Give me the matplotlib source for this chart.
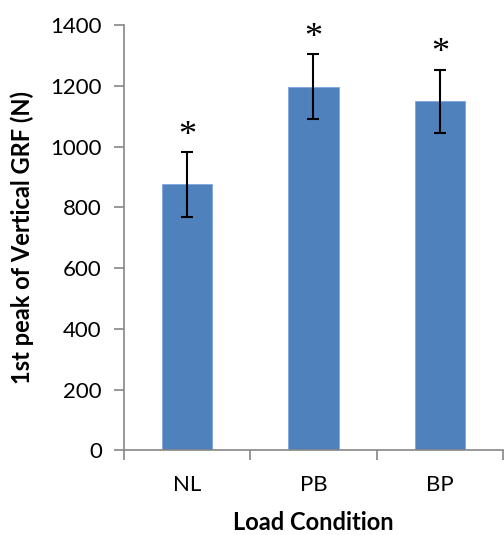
import matplotlib
matplotlib.use("Agg")
import matplotlib.pyplot as plt
import numpy as np

# Donnees
conditions = ["NL", "PB", "BP"]
moyennes   = [876, 1198, 1150]
erreurs    = [108, 107, 104]
etoiles_y  = [1062, 1382, 1333]

GRIS   = "#868686"
BLEU   = "#4F81BD"
POLICE = ["Lato", "DejaVu Sans"]

fig = plt.figure(figsize=(5.04, 5.35), dpi=100)
ax = fig.add_axes([0.246, 0.158, 0.752, 0.795])

x = np.arange(len(conditions))
ax.bar(x, moyennes, width=0.4, color=BLEU, edgecolor="#7EA6E0", linewidth=0.6, zorder=2)
ax.errorbar(x, moyennes, yerr=erreurs, fmt="none", ecolor="black",
            elinewidth=1.5, capsize=4.5, capthick=1.5, zorder=3)

# asterisques (decalage vertical car le glyphe est haut dans sa boite)
for xi, yi in zip(x, etoiles_y):
    ax.annotate("*", (xi, yi), xytext=(0, -6), textcoords="offset points",
                ha="center", va="center", fontsize=26,
                family="Liberation Serif", color="black")

ax.set_xlim(-0.5, 2.5)
ax.set_ylim(0, 1400)
ax.set_yticks(np.arange(0, 1401, 200))
ax.set_xticks(x)
ax.set_xticklabels(conditions)
ax.set_xticks([-0.5, 0.5, 1.5, 2.5], minor=True)

for s in ["top", "right"]:
    ax.spines[s].set_visible(False)
for s in ["left", "bottom"]:
    ax.spines[s].set_color(GRIS)
    ax.spines[s].set_linewidth(1.2)

ax.tick_params(axis="x", which="major", length=0, pad=18, labelsize=16)
ax.tick_params(axis="x", which="minor", length=7, width=1.2, color=GRIS, direction="out")
ax.tick_params(axis="y", length=7, width=1.2, color=GRIS, direction="out", pad=9, labelsize=16)
for lab in ax.get_xticklabels() + ax.get_yticklabels():
    lab.set_family(POLICE)

ax.set_xlabel("Load Condition", fontsize=17, fontweight="bold", family=POLICE, labelpad=11)
ax.set_ylabel("1st peak of Vertical GRF (N)", fontsize=17, fontweight="bold", family=POLICE, labelpad=12)

plt.savefig("out.png", dpi=100)
plt.close()
